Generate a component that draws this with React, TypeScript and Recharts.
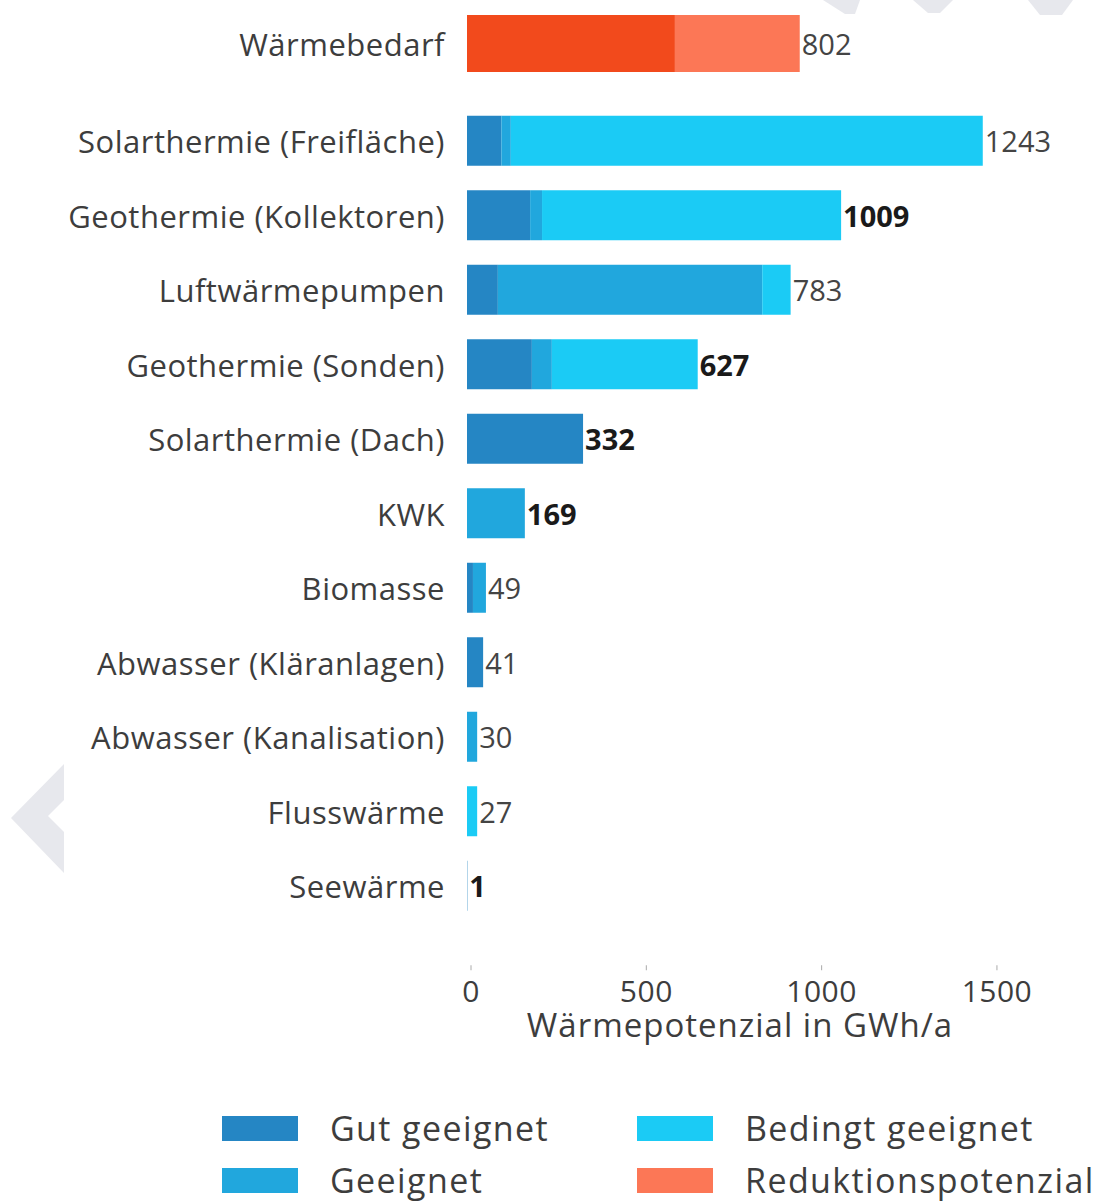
import React from "react";
import { BarChart, Bar, XAxis, YAxis, LabelList } from "recharts";

// Wärmebedarf (top row)
const demandCategory = ["Wärmebedarf"];
const demandBase = [593];
const demandReduction = [356];
const demandLabel = ["802"];

// potentials (GWh/a)
const categories = [
  "Solarthermie (Freifläche)",
  "Geothermie (Kollektoren)",
  "Luftwärmepumpen",
  "Geothermie (Sonden)",
  "Solarthermie (Dach)",
  "KWK",
  "Biomasse",
  "Abwasser (Kläranlagen)",
  "Abwasser (Kanalisation)",
  "Flusswärme",
  "Seewärme",
];
const gutGeeignet = [98, 180, 88, 185, 331, 0, 17, 46, 0, 0, 1];
const geeignet = [27, 34, 754, 57, 0, 165, 37, 0, 29, 0, 0];
const bedingtGeeignet = [1346, 853, 81, 416, 0, 0, 0, 0, 0, 29, 0];
const totalLabels = ["1243", "1009", "783", "627", "332", "169", "49", "41", "30", "27", "1"];
const boldLabels = [false, true, false, true, true, true, false, false, false, false, true];

const xTicks = [0, 500, 1000, 1500];

const COLORS = {
  gut: "#2586c4",
  geeignet: "#21a7dd",
  bedingt: "#1bcbf5",
  demand: "#f24a1c",
  reduction: "#fc7756",
};

const legendItems = [
  { name: "Gut geeignet", color: COLORS.gut },
  { name: "Bedingt geeignet", color: COLORS.bedingt },
  { name: "Geeignet", color: COLORS.geeignet },
  { name: "Reduktionspotenzial", color: COLORS.reduction },
];

const FONT = "'Open Sans', sans-serif";
const TEXT = "#3d3d3d";
const WIDTH = 1102;
const Y_AXIS_W = 467;
const MARGIN_RIGHT = 74;

const demandData = demandCategory.map((name, i) => ({
  name,
  base: demandBase[i],
  reduction: demandReduction[i],
  label: demandLabel[i],
}));

const data = categories.map((name, i) => ({
  name,
  gut: gutGeeignet[i],
  geeignet: geeignet[i],
  bedingt: bedingtGeeignet[i],
  label: totalLabels[i],
}));

const CategoryTick = (props: any) => {
  const { x, y, payload } = props;
  return (
    <text
      x={x}
      y={y}
      textAnchor="end"
      dominantBaseline="central"
      fontFamily={FONT}
      fontSize={31}
      letterSpacing={0.5}
      fill={TEXT}
    >
      {payload.value}
    </text>
  );
};

const ValueTick = (props: any) => {
  const { x, y, payload } = props;
  return (
    <g>
      <line x1={x + 4} x2={x + 4} y1={y + 42} y2={y + 47} stroke="#aaa" strokeWidth={1} />
      <text
        x={x + 4}
        y={y + 67}
        textAnchor="middle"
        dominantBaseline="central"
        fontFamily={FONT}
        fontSize={30}
        letterSpacing={0.5}
        fill={TEXT}
      >
        {payload.value}
      </text>
    </g>
  );
};

const EndText = ({ x, y, label, bold }: { x: number; y: number; label: string; bold: boolean }) => (
  <text
    x={x}
    y={y}
    dominantBaseline="central"
    fontFamily={FONT}
    fontSize={29}
    fontWeight={bold ? 700 : 400}
    fill={bold ? "#1a1a1a" : "#444"}
  >
    {label}
  </text>
);

// the total label sits at the end of the last non-empty segment of each row
const stackLabel = (seriesIdx: number) => (props: any) => {
  const { x, y, width, height, value } = props;
  const row = totalLabels.indexOf(String(value));
  if (row < 0) return null;
  const segs = [gutGeeignet[row], geeignet[row], bedingtGeeignet[row]];
  let last = 0;
  segs.forEach((v, k) => {
    if (v > 0) last = k;
  });
  if (last !== seriesIdx) return null;
  return (
    <EndText
      x={Number(x) + Number(width) + 2}
      y={Number(y) + Number(height) / 2}
      label={totalLabels[row]}
      bold={boldLabels[row]}
    />
  );
};

const demandLabelContent = (props: any) => {
  const { x, y, width, height, value } = props;
  return (
    <EndText x={Number(x) + Number(width) + 2} y={Number(y) + Number(height) / 2} label={String(value)} bold={false} />
  );
};

function Decorations() {
  const grey = "#e7e8ed";
  return (
    <svg width={WIDTH} height={1203} style={{ position: "absolute", left: 0, top: 0 }}>
      <polygon points="64,764 11,818 64,873 64,832 48,816 64,800" fill={grey} />
      <polygon points="823,0 860,0 855,14 845,14" fill={grey} />
      <polygon points="913,0 953,0 940,13 928,13" fill={grey} />
      <polygon points="1028,0 1073,0 1062,15 1040,15" fill={grey} />
    </svg>
  );
}

export default function App() {
  const band = 74.5;
  const firstCenter = 141;
  const plotTop = firstCenter - band / 2;
  const plotBottom = plotTop + band * categories.length;
  const xAxisH = 100;

  return (
    <div
      style={{
        position: "absolute",
        left: 0,
        top: 0,
        width: WIDTH,
        height: 1203,
        background: "#fff",
        fontFamily: FONT,
        overflow: "hidden",
      }}
    >
      <Decorations />

      <div style={{ position: "absolute", left: 0, top: 0 }}>
        <BarChart
          width={WIDTH}
          height={87}
          data={demandData}
          layout="vertical"
          margin={{ top: 0, right: MARGIN_RIGHT, bottom: 0, left: 0 }}
          barSize={57}
        >
          <XAxis type="number" domain={[0, 1600]} hide />
          <YAxis
            type="category"
            dataKey="name"
            width={Y_AXIS_W}
            axisLine={false}
            tickLine={false}
            tickSize={0}
            tickMargin={22}
            tick={<CategoryTick />}
          />
          <Bar dataKey="base" stackId="d" fill={COLORS.demand} isAnimationActive={false} />
          <Bar dataKey="reduction" stackId="d" fill={COLORS.reduction} isAnimationActive={false}>
            <LabelList dataKey="label" content={demandLabelContent} />
          </Bar>
        </BarChart>
      </div>

      <div style={{ position: "absolute", left: 0, top: 0 }}>
        <BarChart
          width={WIDTH}
          height={Math.round(plotBottom) + xAxisH}
          data={data}
          layout="vertical"
          margin={{ top: plotTop, right: MARGIN_RIGHT, bottom: 0, left: 0 }}
          barSize={50}
        >
          <XAxis
            type="number"
            domain={[0, 1600]}
            ticks={xTicks}
            axisLine={false}
            tickLine={false}
            tickSize={0}
            tickMargin={0}
            height={xAxisH + (Math.round(plotBottom) - plotBottom)}
            tick={<ValueTick />}
          />
          <YAxis
            type="category"
            dataKey="name"
            width={Y_AXIS_W}
            axisLine={false}
            tickLine={false}
            tickSize={0}
            tickMargin={22}
            tick={<CategoryTick />}
            interval={0}
          />
          <Bar dataKey="gut" stackId="a" fill={COLORS.gut} isAnimationActive={false}>
            <LabelList dataKey="label" content={stackLabel(0)} />
          </Bar>
          <Bar dataKey="geeignet" stackId="a" fill={COLORS.geeignet} isAnimationActive={false}>
            <LabelList dataKey="label" content={stackLabel(1)} />
          </Bar>
          <Bar dataKey="bedingt" stackId="a" fill={COLORS.bedingt} isAnimationActive={false}>
            <LabelList dataKey="label" content={stackLabel(2)} />
          </Bar>
        </BarChart>
      </div>

      <div
        style={{
          position: "absolute",
          left: 440,
          width: 600,
          top: 1005,
          lineHeight: "40px",
          textAlign: "center",
          fontSize: 33,
          letterSpacing: 1,
          color: TEXT,
        }}
      >
        Wärmepotenzial in GWh/a
      </div>

      {legendItems.map((item, i) => {
        const col = i % 2;
        const row = Math.floor(i / 2);
        const left = col === 0 ? 222 : 637;
        const top = row === 0 ? 1115 : 1167;
        return (
          <div
            key={item.name}
            style={{ position: "absolute", left, top, display: "flex", alignItems: "center", height: 26 }}
          >
            <div style={{ width: 76, height: 25, background: item.color }} />
            <span
              style={{
                marginLeft: 32,
                fontSize: 34,
                letterSpacing: 1.4,
                color: TEXT,
                whiteSpace: "nowrap",
                lineHeight: "26px",
              }}
            >
              {item.name}
            </span>
          </div>
        );
      })}
    </div>
  );
}
